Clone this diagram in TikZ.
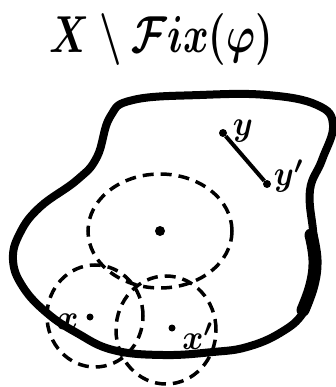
\documentclass[tikz,border=0pt]{standalone}
\usepackage{amsfonts,amssymb,amsmath}
\usepackage{xcolor}
\usepackage{tikz}
\usetikzlibrary{arrows.meta,shapes}

\newcommand{\handlab}[1]{\scalebox{3.2}[3.5]{\boldmath$#1$}}

\begin{document}
\begin{tikzpicture}[x=1pt,y=-1pt,
 dot/.style={shape=circle,fill=black,inner sep=0pt,minimum size=#1},
 dot/.default=7pt,
 ball/.style={line width=3.5pt,dash pattern=on 11pt off 7pt},
 lab/.style={inner sep=0pt}]
\useasboundingbox (0,0) rectangle (336,387);
\node (title) at (161,40){\scalebox{3.9}[5.2]{\boldmath$X\setminus\mathcal{F}ix(\varphi)$}};
% the set
\draw[line width=8pt,line join=round] plot[smooth cycle,tension=0.7] coordinates{
 (110,117)(133,100)(200,95)(267,95)(317,105)(333,125)(322,160)(310,190)
 (313,230)(316,255)(313,283)(303,313)(280,333)(247,347)(213,352)(163,355)
 (113,350)(77,333)(47,313)(23,287)(13,260)(20,233)(40,207)(77,180)(97,157)};
\draw[line width=13pt,line cap=round] plot[smooth,tension=0.7] coordinates{
 (311,235)(315,260)(312,285)(303,310)};
% balls
\draw[ball](160,231)ellipse[x radius=72pt,y radius=57pt];
\draw[ball](95,316)ellipse[x radius=48pt,y radius=51pt];
\draw[ball](166,330)ellipse[x radius=50pt,y radius=54pt];
\node[dot=10pt] (c) at (160,231){};
\node[dot] (x) at (90,317){};
\node[dot] (xp) at (172,328){};
\node[dot=8pt] (y) at (223,133){};
\node[dot=8pt] (yp) at (267,184){};
\draw[line width=4pt](y)--(yp);
\node[lab] (lx) at (68,322){\handlab{x}};
\node[lab] (lxp) at (198,336){\handlab{x'}};
\node[lab] (ly) at (243,131){\handlab{y}};
\node[lab] (lyp) at (289,176){\handlab{y'}};
\end{tikzpicture}
\end{document}
